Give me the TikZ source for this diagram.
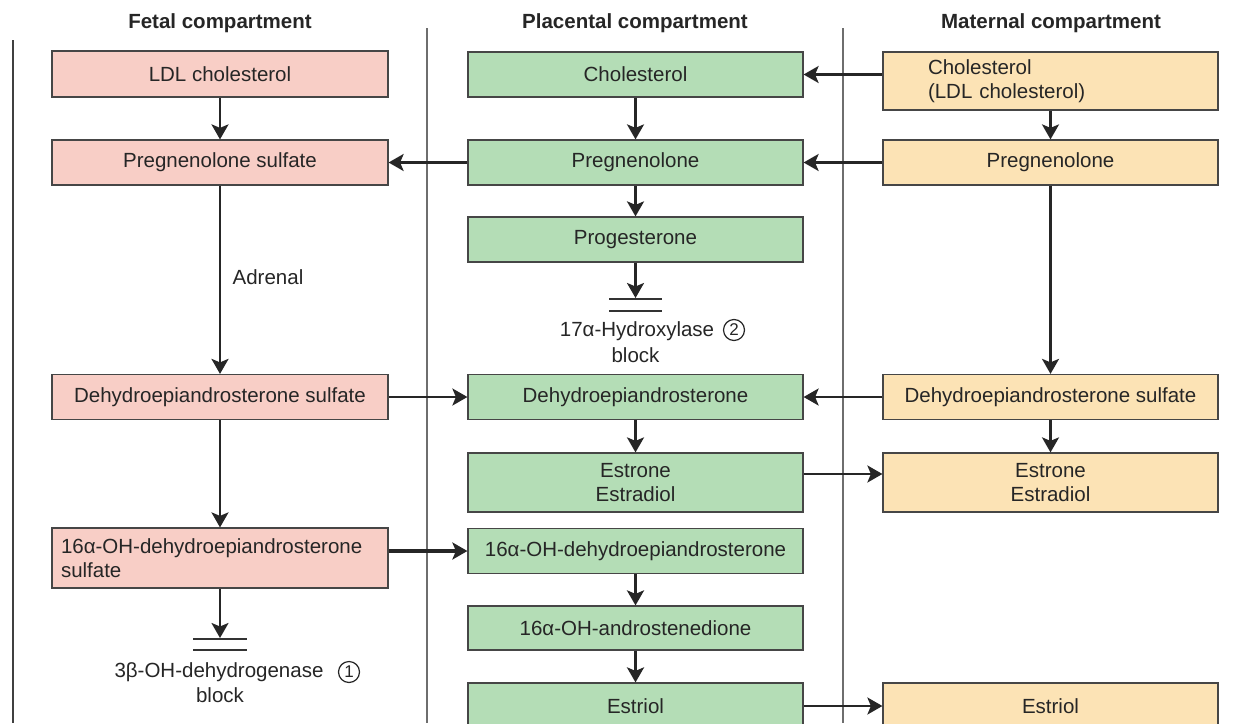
\documentclass[tikz,border=0pt]{standalone}
\usepackage{fontspec}
\setmainfont{Liberation Sans}
\usetikzlibrary{arrows.meta}
\definecolor{fetalfill}{RGB}{248,206,198}
\definecolor{placfill}{RGB}{180,221,182}
\definecolor{matfill}{RGB}{252,227,181}
\definecolor{boxline}{RGB}{70,70,70}
\definecolor{divider}{RGB}{110,110,110}
\tikzset{
  box/.style={draw=boxline, line width=1.2pt, inner sep=0pt, font=\fontsize{20.5}{24}\selectfont, text=black!85},
  fetal/.style={box, fill=fetalfill, minimum width=336pt},
  plac/.style={box, fill=placfill, minimum width=335pt},
  mat/.style={box, fill=matfill, minimum width=335pt},
  arr/.style={line width=2.5pt, black!85, -{Stealth[length=15pt,width=17pt,inset=3.5pt]}},
  heavyarr/.style={arr, line width=3.2pt},
  header/.style={font=\bfseries\fontsize{20.5}{24}\selectfont, text=black!85},
  note/.style={font=\fontsize{20.5}{24}\selectfont, text=black!85, inner sep=0pt},
  cnum/.style={circle, draw=black!85, line width=1.2pt, inner sep=0pt, minimum size=21pt,
    font=\fontsize{17}{17}\selectfont, text=black!85},
  divline/.style={divider, line width=1.3pt},
  blockbar/.style={line width=1.6pt, black!80},
}
\begin{document}
\begin{tikzpicture}[x=1pt,y=-1pt]
\useasboundingbox (0,0) rectangle (1252,723);
\fill[white] (0,0) rectangle (1252,723);

% compartment headers
\node[header] (hf) at (220,23) {Fetal compartment};
\node[header] (hp) at (635,23) {Placental compartment};
\node[header] (hm) at (1051,23) {Maternal compartment};

% dividers
\coordinate (d1t) at (13,40);   \coordinate (d1b) at (13,723);
\coordinate (d2t) at (427,28);  \coordinate (d2b) at (427,723);
\coordinate (d3t) at (843,28);  \coordinate (d3b) at (843,723);
\draw[divline, black!75] (d1t) -- (d1b);
\draw[divline] (d2t) -- (d2b);
\draw[divline] (d3t) -- (d3b);

% fetal compartment
\node[fetal, minimum height=46pt] (fldl) at (220,74) {LDL cholesterol};
\node[fetal, minimum height=45pt] (fpreg) at (220,162.5) {Pregnenolone sulfate};
\node[fetal, minimum height=45pt] (fdheas) at (220,397) {Dehydroepiandrosterone sulfate};
\node[fetal, minimum height=60pt, align=left, text width=318pt] (f16) at (220,558)
  {16α-OH-dehydroepiandrosterone\\sulfate};

% placental compartment
\node[plac, minimum height=45pt] (pchol) at (635.5,74.5) {Cholesterol};
\node[plac, minimum height=45pt] (ppreg) at (635.5,162.5) {Pregnenolone};
\node[plac, minimum height=45pt] (pprog) at (635.5,239.5) {Progesterone};
\node[plac, minimum height=45pt] (pdhea) at (635.5,397) {Dehydroepiandrosterone};
\node[plac, minimum height=59pt, align=center] (pest) at (635.5,482.5) {Estrone\\Estradiol};
\node[plac, minimum height=45pt] (p16) at (635.5,551) {16α-OH-dehydroepiandrosterone};
\node[plac, minimum height=44pt] (pandro) at (635.5,628) {16α-OH-androstenedione};
\node[plac, minimum height=46pt] (pestriol) at (635.5,706) {Estriol};

% maternal compartment
\node[mat, minimum height=58pt, align=left, text width=245pt] (mchol) at (1050.5,81)
  {Cholesterol\\(LDL cholesterol)};
\node[mat, minimum height=45pt] (mpreg) at (1050.5,162.5) {Pregnenolone};
\node[mat, minimum height=45pt] (mdheas) at (1050.5,397) {Dehydroepiandrosterone sulfate};
\node[mat, minimum height=59pt, align=center] (mest) at (1050.5,482.5) {Estrone\\Estradiol};
\node[mat, minimum height=46pt] (mestriol) at (1050.5,706) {Estriol};

% 17-alpha-hydroxylase block
\coordinate (pblk) at (635.5,298);
\draw[blockbar] (609,299) -- (662,299);
\draw[blockbar] (609,311) -- (662,311);
\node[note] (pblklbl) at (637,331) {17α-Hydroxylase};
\node[cnum] (pblknum) at (734,330) {2};
\node[note] (pblkword) at (635.5,355) {block};

% 3-beta-OH-dehydrogenase block
\coordinate (fblk) at (220,638);
\draw[blockbar] (193,639) -- (247,639);
\draw[blockbar] (193,650) -- (247,650);
\node[note] (fblklbl) at (219,672) {3β-OH-dehydrogenase};
\node[cnum] (fblknum) at (349,672) {1};
\node[note] (fblkword) at (220,695) {block};

\node[note] (adrenal) at (268,277) {Adrenal};

% fetal pathway
\draw[arr] (fldl) -- (fpreg);
\draw[arr] (fpreg) -- (fdheas);
\draw[arr] (fdheas) -- (f16);
\draw[arr] (f16) -- (fblk);

% placental pathway
\draw[arr] (pchol) -- (ppreg);
\draw[arr] (ppreg) -- (pprog);
\draw[arr] (pprog) -- (pblk);
\draw[arr] (pdhea) -- (pest.north);
\draw[heavyarr] (p16) -- (pandro);
\draw[heavyarr] (pandro) -- (pestriol);

% maternal pathway
\draw[arr] (mchol) -- (mchol |- mpreg.north);
\draw[arr] (mpreg) -- (mdheas);
\draw[arr] (mdheas) -- (mest);

% exchanges between compartments
\draw[arr] (mchol.west |- pchol) -- (pchol.east);
\draw[arr] (mpreg) -- (ppreg);
\draw[arr] (ppreg) -- (fpreg);
\draw[arr] (fdheas) -- (pdhea);
\draw[arr] (mdheas) -- (pdhea);
\coordinate (estlvl) at (0,474);
\draw[arr] (pest.east |- estlvl) -- (mest.west |- estlvl);
\draw[heavyarr] (f16.east |- p16) -- (p16.west);
\draw[arr] (pestriol) -- (mestriol);
\end{tikzpicture}
\end{document}
